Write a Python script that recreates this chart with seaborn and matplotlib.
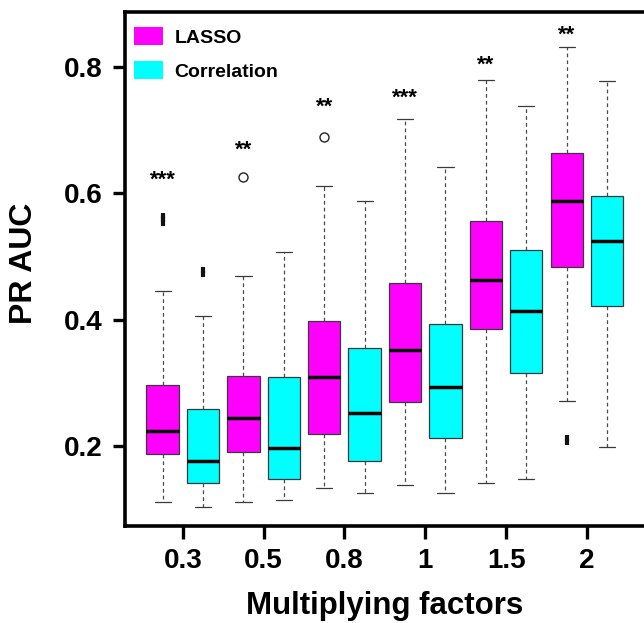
import numpy as np
import pandas as pd
import matplotlib
matplotlib.use("Agg")
import matplotlib.pyplot as plt
from matplotlib.patches import Patch
import seaborn as sns

# ---- data ----
factors = ["0.3", "0.5", "0.8", "1", "1.5", "2"]
methods = ["LASSO", "Correlation"]

lasso_lower_whisker = [0.111, 0.111, 0.133, 0.138, 0.142, 0.272]
lasso_q1            = [0.187, 0.191, 0.219, 0.270, 0.385, 0.484]
lasso_median        = [0.223, 0.244, 0.310, 0.352, 0.463, 0.588]
lasso_q3            = [0.296, 0.311, 0.398, 0.458, 0.557, 0.664]
lasso_upper_whisker = [0.445, 0.470, 0.612, 0.718, 0.779, 0.832]
lasso_outliers      = [[0.553, 0.559, 0.565], [0.6255], [0.690], [], [], [0.2065, 0.2125]]

corr_lower_whisker = [0.103, 0.114, 0.125, 0.126, 0.147, 0.198]
corr_q1            = [0.141, 0.147, 0.176, 0.213, 0.315, 0.422]
corr_median        = [0.177, 0.197, 0.252, 0.294, 0.413, 0.525]
corr_q3            = [0.259, 0.310, 0.355, 0.393, 0.510, 0.596]
corr_upper_whisker = [0.406, 0.508, 0.588, 0.642, 0.739, 0.778]
corr_outliers      = [[0.473, 0.479], [], [], [], [], []]

significance = ["***", "**", "**", "***", "**", "**"]
star_y       = [0.629, 0.677, 0.746, 0.759, 0.812, 0.859]

colors = {"LASSO": "#FF00FF", "Correlation": "#00FFFF"}

# ---- build a long table whose box statistics reproduce the values above ----
rows = []
def add_group(factor, method, lw, q1, med, q3, uw, outs):
    vals = [lw] + [q1] * 20 + [med] * 20 + [q3] * 20 + [uw] + list(outs)
    for v in vals:
        rows.append({"factor": factor, "method": method, "value": v})

for i, f in enumerate(factors):
    add_group(f, "LASSO", lasso_lower_whisker[i], lasso_q1[i], lasso_median[i],
              lasso_q3[i], lasso_upper_whisker[i], lasso_outliers[i])
    add_group(f, "Correlation", corr_lower_whisker[i], corr_q1[i], corr_median[i],
              corr_q3[i], corr_upper_whisker[i], corr_outliers[i])
df = pd.DataFrame(rows)

sns.set_style("white")
plt.rcParams["font.family"] = ["Liberation Sans", "DejaVu Sans"]
plt.rcParams["text.color"] = "black"
plt.rcParams["axes.labelcolor"] = "black"
plt.rcParams["xtick.color"] = "black"
plt.rcParams["ytick.color"] = "black"

fig = plt.figure(figsize=(6.44, 6.23), dpi=100)
ax = fig.add_axes([124.5 / 644, (623 - 525.5) / 623, (644 - 124.5) / 644, (525.5 - 12) / 623])

sns.boxplot(
    data=df, x="factor", y="value", hue="method", order=factors, hue_order=methods,
    palette=colors, saturation=1, width=1.0, gap=0.2, whis=1.5, ax=ax, legend=False,
    linecolor="#3a3a3a", linewidth=0.9,
    medianprops={"color": "black", "linewidth": 2.5},
    whiskerprops={"linestyle": (0, (3.0, 2.5)), "color": "#4a4a4a", "linewidth": 0.9},
    capprops={"color": "#3a3a3a", "linewidth": 0.9},
    flierprops={"marker": "o", "markersize": 6.5, "markerfacecolor": "none",
                "markeredgecolor": "#222222", "markeredgewidth": 1.0},
)

# densely clustered outliers appear as short solid bars in the reference
for ln in ax.lines:
    if ln.get_marker() == "o" and len(ln.get_ydata()) > 1:
        ln.set_marker("|")
        ln.set_markersize(4.3)
        ln.set_markeredgewidth(3.0)
        ln.set_markeredgecolor("#111111")

# significance stars above the LASSO boxes
for i, s in enumerate(significance):
    ax.annotate(s, xy=(i - 0.25, star_y[i]), xytext=(0, -8), textcoords="offset points",
                ha="center", va="baseline", fontsize=16, fontweight="bold", color="black")

ax.set_xlim(-0.722, 5.707)
ax.set_ylim(0.0741, 0.8873)
ax.set_yticks([0.2, 0.4, 0.6, 0.8])
ax.set_yticklabels(["0.2", "0.4", "0.6", "0.8"])

for side in ["left", "bottom", "top"]:
    ax.spines[side].set_visible(True)
    ax.spines[side].set_linewidth(2.6)
    ax.spines[side].set_color("black")
ax.spines["right"].set_visible(False)

ax.tick_params(axis="both", which="major", direction="out", length=9, width=2.4,
               color="black", labelcolor="black", labelsize=20, pad=7, left=True, bottom=True)
for lab in ax.get_xticklabels() + ax.get_yticklabels():
    lab.set_fontweight("bold")

ax.set_xlabel("Multiplying factors", fontsize=22.5, fontweight="bold", va="center", color="black")
ax.set_ylabel("PR AUC", fontsize=23, fontweight="bold", va="center", color="black")
ax.xaxis.set_label_coords(0.5, -0.157)
ax.yaxis.set_label_coords(-0.193, 0.51)

handles = [Patch(facecolor=colors[m], edgecolor="none", label=m) for m in methods]
ax.legend(handles=handles, loc="upper left", bbox_to_anchor=(9 / 519.5, 1 - 15 / 513.5),
          frameon=False, borderpad=0, borderaxespad=0, handlelength=1.5, handleheight=1.05,
          handletextpad=0.6, labelspacing=0.75, labelcolor="black",
          prop={"weight": "bold", "size": 14})

fig.savefig("out.png", dpi=100)
